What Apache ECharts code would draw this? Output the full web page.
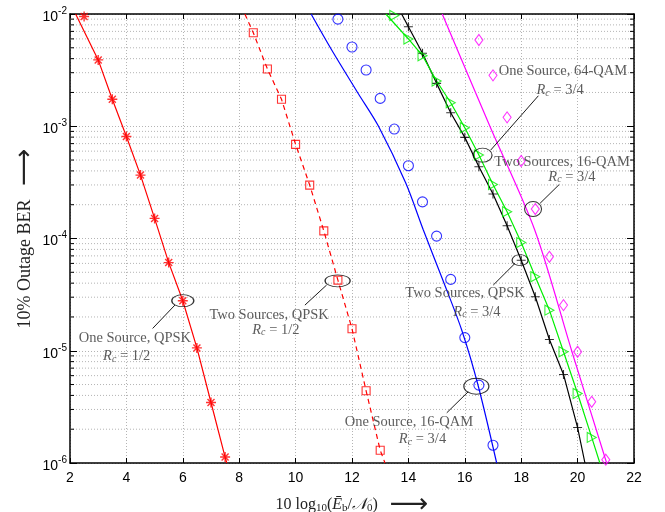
<!DOCTYPE html>
<html>
<head>
<meta charset="utf-8">
<script src="https://cdn.jsdelivr.net/npm/echarts@6/dist/echarts.min.js"></script>
<style>
  html, body { margin: 0; padding: 0; background: #fff; }
  #chart { width: 665px; height: 512px; }
</style>
</head>
<body>
<div id="chart"></div>
<script>
// one source, QPSK, Rc = 1/2 (red asterisks + solid line)
var qpskOneX = [2.5, 3, 3.5, 4, 4.5, 5, 5.5, 6, 6.5, 7, 7.5];
var qpskOneBer = [9.5e-3, 3.9e-3, 1.74e-3, 8.1e-4, 3.67e-4, 1.51e-4, 6.1e-5, 2.79e-5, 1.06e-5, 3.46e-6, 1.13e-6];
var qpskOneCurveX = [2.2, 3, 3.5, 4, 4.5, 5, 5.5, 6, 6.5, 7, 7.5, 7.56];
var qpskOneCurveBer = [1e-2, 3.9e-3, 1.74e-3, 8.1e-4, 3.67e-4, 1.51e-4, 6.1e-5, 2.79e-5, 1.06e-5, 3.46e-6, 1.13e-6, 1e-6];

// two sources, QPSK, Rc = 1/2 (red squares + dashed line)
var qpskTwoX = [8.5, 9, 9.5, 10, 10.5, 11, 11.5, 12, 12.5, 13];
var qpskTwoBer = [6.8e-3, 3.24e-3, 1.74e-3, 6.9e-4, 2.99e-4, 1.17e-4, 4.26e-5, 1.57e-5, 4.4e-6, 1.3e-6];
var qpskTwoCurveX = [8.2, 8.5, 9, 9.5, 10, 10.5, 11, 11.5, 12, 12.5, 13, 13.17];
var qpskTwoCurveBer = [1e-2, 6.8e-3, 3.24e-3, 1.74e-3, 6.9e-4, 2.99e-4, 1.17e-4, 4.26e-5, 1.57e-5, 4.4e-6, 1.3e-6, 1e-6];

// one source, 16-QAM, Rc = 3/4 (blue circles + blue line)
var qam16X = [11.5, 12, 12.5, 13, 13.5, 14, 14.5, 15, 15.5, 16, 16.5, 17];
var qam16Ber = [9.0e-3, 5.08e-3, 3.17e-3, 1.77e-3, 9.44e-4, 4.45e-4, 2.12e-4, 1.05e-4, 4.32e-5, 1.31e-5, 4.94e-6, 1.44e-6];
var qam16CurveX = [10.55, 11.28, 12.22, 12.94, 13.91, 14.53, 15.21, 15.89, 16.47, 17.13];
var qam16CurveBer = [1e-2, 4.78e-3, 1.96e-3, 1e-3, 3.1e-4, 1.19e-4, 4.33e-5, 1.53e-5, 4.93e-6, 1e-6];

// two sources, QPSK, Rc = 3/4 (black plus + black line)
var qpsk34X = [14, 14.5, 15, 15.5, 16, 16.5, 17, 17.5, 18, 18.5, 19, 19.5, 20];
var qpsk34Ber = [7.7e-3, 4.47e-3, 2.41e-3, 1.32e-3, 7.96e-4, 4.36e-4, 2.49e-4, 1.30e-4, 6.4e-5, 3.03e-5, 1.26e-5, 6.15e-6, 2.07e-6];
var qpsk34CurveX = [13.76, 14, 14.5, 15, 15.5, 16, 16.5, 17, 17.5, 18, 18.5, 19, 19.5, 20, 20.26];
var qpsk34CurveBer = [1e-2, 7.7e-3, 4.47e-3, 2.41e-3, 1.32e-3, 7.96e-4, 4.36e-4, 2.49e-4, 1.30e-4, 6.4e-5, 3.03e-5, 1.26e-5, 6.15e-6, 2.07e-6, 1e-6];

// two sources, 16-QAM, Rc = 3/4 (green triangles + green line)
var qam16TwoX = [13.5, 14, 14.5, 15, 15.5, 16, 16.5, 17, 17.5, 18, 18.5, 19, 19.5, 20, 20.5];
var qam16TwoBer = [9.7e-3, 5.99e-3, 4.25e-3, 2.53e-3, 1.62e-3, 9.7e-4, 5.54e-4, 3.03e-4, 1.73e-4, 9.2e-5, 4.56e-5, 2.3e-5, 9.8e-6, 4.16e-6, 1.69e-6];
var qam16TwoCurveX = [13.2, 14, 14.5, 15, 15.5, 16, 16.5, 17, 17.5, 18, 18.5, 19, 19.5, 20, 20.5, 20.79];
var qam16TwoCurveBer = [1e-2, 5.99e-3, 4.25e-3, 2.53e-3, 1.62e-3, 9.7e-4, 5.54e-4, 3.03e-4, 1.73e-4, 9.2e-5, 4.56e-5, 2.3e-5, 9.8e-6, 4.16e-6, 1.69e-6, 1e-6];

// one source, 64-QAM, Rc = 3/4 (magenta diamonds + magenta line)
var qam64X = [16.5, 17, 17.5, 18, 18.5, 19, 19.5, 20, 20.5, 21];
var qam64Ber = [5.87e-3, 2.84e-3, 1.20e-3, 4.9e-4, 1.83e-4, 6.87e-5, 2.55e-5, 9.8e-6, 3.51e-6, 1.07e-6];
var qam64CurveX = [15.2, 16.89, 18.48, 19.8, 21.03];
var qam64CurveBer = [1e-2, 1e-3, 1.19e-4, 9.8e-6, 1e-6];

var decades = [-6, -5, -4, -3];
var mantissas = [2, 3, 4, 5, 6, 7, 8, 9];

// annotations: ellipse centre, leader line, two text lines (data coords)
var notes = [
  { title: 'One Source, QPSK', rc: '1/2', at: [6.0, 2.79e-5], size: [22, 12],
    from: [5.72, 2.55e-5], to: [4.93, 1.58e-5], t1: [4.30, 1.30e-5], t2: [4.01, 8.95e-6] },
  { title: 'Two Sources, QPSK', rc: '1/2', at: [11.49, 4.2e-5], size: [25, 12],
    from: [11.10, 3.85e-5], to: [10.33, 2.55e-5], t1: [9.06, 2.07e-5], t2: [9.30, 1.54e-5] },
  { title: 'One Source, 64-QAM', rc: '3/4', at: [16.63, 5.53e-4], size: [19, 14],
    from: [16.92, 6.14e-4], to: [18.61, 1.87e-3], t1: [19.48, 3.10e-3], t2: [19.38, 2.10e-3] },
  { title: 'Two Sources, 16-QAM', rc: '3/4', at: [18.42, 1.83e-4], size: [17, 15],
    from: [18.67, 2.06e-4], to: [19.35, 3.03e-4], t1: [19.45, 4.83e-4], t2: [19.80, 3.55e-4] },
  { title: 'Two Sources, QPSK', rc: '3/4', at: [17.96, 6.41e-5], size: [16, 11],
    from: [17.78, 6.0e-5], to: [17.01, 3.85e-5], t1: [16.01, 3.28e-5], t2: [16.43, 2.22e-5] },
  { title: 'One Source, 16-QAM', rc: '3/4', at: [16.41, 4.83e-6], size: [25, 16],
    from: [16.12, 4.31e-6], to: [15.36, 2.80e-6], t1: [14.02, 2.30e-6], t2: [14.50, 1.62e-6] }
];

var SERIF = '"Liberation Serif", "DejaVu Serif", serif';
var SANS = '"Liberation Sans", Arial, sans-serif';
var ASTERISK = 'path://M0,-1L0,1M-1,0L1,0M-0.7,-0.7L0.7,0.7M-0.7,0.7L0.7,-0.7';
var PLUS = 'path://M0,-1L0,1M-1,0L1,0';

function zip(xs, ys) {
  return xs.map(function (x, i) { return [x, ys[i]]; });
}

function curve(xs, ys, color, dashed, smooth) {
  return {
    type: 'line', data: zip(xs, ys), showSymbol: false, z: 3, smooth: smooth || false,
    lineStyle: { color: color, width: 1.2, type: dashed ? [5, 4] : 'solid' }
  };
}

function marks(xs, ys, color, symbol, size, rotate, bw) {
  return {
    type: 'scatter', data: zip(xs, ys), symbol: symbol, symbolSize: size,
    symbolRotate: rotate || 0, z: 4,
    itemStyle: { color: 'transparent', borderColor: color, borderWidth: bw || 1.1 }
  };
}

var minorVals = [];
decades.forEach(function (d) {
  mantissas.forEach(function (m) { minorVals.push([2, m * Math.pow(10, d)]); });
});

var rich = {
  t: { fontFamily: SERIF, fontSize: 14.5, color: '#333' },
  i: { fontFamily: SERIF, fontSize: 14.5, fontStyle: 'italic', color: '#333' },
  s: { fontFamily: SERIF, fontSize: 10, fontStyle: 'italic', color: '#333', padding: [6, 0, 0, 0] }
};

var textData = [];
notes.forEach(function (n) {
  textData.push({ value: n.t1, label: { formatter: '{t|' + n.title + '}' } });
  textData.push({ value: n.t2, label: { formatter: '{i|R}{s|c}{t| = ' + n.rc + '}' } });
});

var chart = echarts.init(document.getElementById('chart'));
chart.setOption({
  animation: false,
  backgroundColor: '#fff',
  grid: { left: 70, right: 31, top: 14, bottom: 49, containLabel: false, outerBoundsMode: 'none' },
  xAxis: [
    {
      type: 'value', min: 2, max: 22, interval: 2, position: 'bottom',
      name: '10 log{sub|10}({it|Ē}{sub|b}/{it|𝒩}{sub|0})   {arr|⟶}',
      nameLocation: 'middle', nameGap: 28,
      nameTextStyle: {
        fontFamily: SERIF, fontSize: 16, color: '#222',
        rich: {
          sub: { fontFamily: SERIF, fontSize: 11, padding: [8, 0, 0, 0], color: '#222' },
          it: { fontFamily: SERIF, fontSize: 16, fontStyle: 'italic', color: '#222' },
          arr: { fontFamily: 'DejaVu Sans', fontSize: 27, color: '#222' }
        }
      },
      axisLine: { lineStyle: { color: '#000', width: 1.5 } },
      axisTick: { inside: true, length: 5, lineStyle: { color: '#000' } },
      axisLabel: { fontFamily: SANS, fontSize: 14, color: '#000', margin: 8 },
      splitLine: { show: true, lineStyle: { color: '#b4b4b4', type: [1, 2], width: 1 } }
    },
    {
      type: 'value', min: 2, max: 22, interval: 2, position: 'top',
      axisLine: { lineStyle: { color: '#000', width: 1.5 } },
      axisTick: { inside: true, length: 5, lineStyle: { color: '#000' } },
      axisLabel: { show: false }, splitLine: { show: false }
    }
  ],
  yAxis: [
    {
      type: 'log', logBase: 10, min: 1e-6, max: 1e-2, interval: 1, position: 'left',
      name: '10% Outage BER   {arr|⟶}', nameLocation: 'middle', nameRotate: 90, nameGap: 32,
      nameMoveOverlap: false,
      nameTextStyle: {
        fontFamily: SERIF, fontSize: 18, color: '#222',
        rich: { arr: { fontFamily: 'DejaVu Sans', fontSize: 26, color: '#222' } }
      },
      axisLine: { lineStyle: { color: '#000', width: 1.5 } },
      axisTick: { inside: true, length: 7, lineStyle: { color: '#000' } },
      axisLabel: {
        margin: 3, color: '#000',
        formatter: function (v) {
          return '{b|10}{e|' + Math.round(Math.log10(v)) + '}';
        },
        rich: {
          b: { fontFamily: SANS, fontSize: 14, color: '#000', padding: [6, 0, 0, 0] },
          e: { fontFamily: SANS, fontSize: 10, color: '#000', padding: [0, 0, 6, 0] }
        }
      },
      splitLine: { show: true, lineStyle: { color: '#b4b4b4', type: [1, 2], width: 1 } }
    },
    {
      type: 'log', logBase: 10, min: 1e-6, max: 1e-2, interval: 1, position: 'right',
      axisLine: { lineStyle: { color: '#000', width: 1.5 } },
      axisTick: { inside: true, length: 7, lineStyle: { color: '#000' } },
      axisLabel: { show: false }, splitLine: { show: false }
    }
  ],
  series: [
    {
      // minor log grid lines and ticks
      type: 'custom', data: minorVals, z: 1, silent: true,
      renderItem: function (params, api) {
        var cs = params.coordSys;
        var y = api.coord([2, api.value(1)])[1];
        var left = cs.x, right = cs.x + cs.width;
        return {
          type: 'group', children: [
            { type: 'line', shape: { x1: left, y1: y, x2: right, y2: y },
              style: { stroke: '#b4b4b4', lineWidth: 1, lineDash: [1, 2] } },
            { type: 'line', shape: { x1: left, y1: y, x2: left + 4, y2: y },
              style: { stroke: '#000', lineWidth: 1 } },
            { type: 'line', shape: { x1: right - 4, y1: y, x2: right, y2: y },
              style: { stroke: '#000', lineWidth: 1 } }
          ]
        };
      }
    },
    curve(qpskOneCurveX, qpskOneCurveBer, '#ff0000', false),
    marks(qpskOneX, qpskOneBer, '#ff0000', ASTERISK, 10, 0, 1.4),
    curve(qpskTwoCurveX, qpskTwoCurveBer, '#ff0000', true),
    marks(qpskTwoX, qpskTwoBer, '#ff0000', 'rect', 8),
    curve(qam16CurveX, qam16CurveBer, '#0000ff', false, 0.3),
    marks(qam16X, qam16Ber, '#0000ff', 'circle', 10),
    curve(qpsk34CurveX, qpsk34CurveBer, '#000000', false),
    marks(qpsk34X, qpsk34Ber, '#000000', PLUS, 9),
    curve(qam16TwoCurveX, qam16TwoCurveBer, '#00ee00', false),
    marks(qam16TwoX, qam16TwoBer, '#00ee00', 'triangle', [10, 9], -90),
    curve(qam64CurveX, qam64CurveBer, '#ff00ff', false, 0.3),
    marks(qam64X, qam64Ber, '#ff00ff', 'diamond', [8, 11]),
    {
      // annotation ellipses
      type: 'scatter', z: 5, silent: true,
      data: notes.map(function (n) { return { value: n.at, symbolSize: n.size }; }),
      symbol: 'circle',
      itemStyle: { color: 'transparent', borderColor: '#000', borderWidth: 1 }
    },
    {
      // leader lines
      type: 'lines', coordinateSystem: 'cartesian2d', z: 5, silent: true,
      data: notes.map(function (n) { return { coords: [n.from, n.to] }; }),
      lineStyle: { color: '#000', width: 0.9, opacity: 1 }
    },
    {
      // annotation text
      type: 'scatter', z: 6, silent: true, symbolSize: 0,
      data: textData,
      label: { show: true, position: 'inside', align: 'center', verticalAlign: 'middle', rich: rich }
    }
  ]
});
</script>
</body>
</html>
